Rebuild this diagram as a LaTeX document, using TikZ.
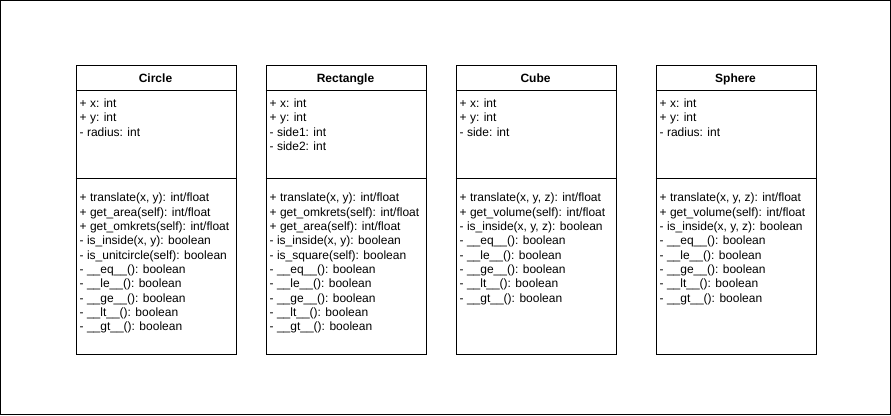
\documentclass[tikz,border=0pt]{standalone}
\usepackage{fontspec}
\setmainfont{Liberation Sans}
\begin{document}
\begin{tikzpicture}[x=1pt,y=-1pt,
  frame/.style={draw=black,line width=1pt},
  umlbox/.style={draw=black,line width=1pt,fill=white,rectangle,minimum width=160pt,minimum height=289.5pt,anchor=north west,inner sep=0pt},
  umltitle/.style={font=\fontsize{12}{14.4}\selectfont\bfseries,anchor=base,inner sep=0pt},
  member/.style={font=\fontsize{12}{14.4}\selectfont,anchor=base west,inner sep=0pt}]
\useasboundingbox (0,0) rectangle (891,415);
\draw[frame] (0.5,0.5) rectangle (890.5,414.5);
\newcommand\umlclass[5]{%
  \node[umlbox] (#1) at (#2,64.5) {};
  \draw[frame] (#2,90.5) -- ++(160,0);
  \draw[frame] (#2,178.5) -- ++(160,0);
  \node[umltitle] (#1-title) at (#2+80,82) {#3};
  \foreach \m [count=\i] in {#4}
    \node[member] (#1-a\i) at (#2+4,107.5+14.4*\i-14.4) {\m};
  \foreach \m [count=\i] in {#5}
    \node[member] (#1-m\i) at (#2+4,201.7+14.35*\i-14.35) {\m};
}
\umlclass{circle}{75.5}{Circle}
  {{+ x: int},{+ y: int},{- radius: int}}
  {{+ translate(x, y): int/float},{+ get\_area(self): int/float},{+ get\_omkrets(self): int/float},{- is\_inside(x, y): boolean},{- is\_unitcircle(self): boolean},{- \_\_eq\_\_(): boolean},{- \_\_le\_\_(): boolean},{- \_\_ge\_\_(): boolean},{- \_\_lt\_\_(): boolean},{- \_\_gt\_\_(): boolean}}
\umlclass{rectangle}{265.5}{Rectangle}
  {{+ x: int},{+ y: int},{- side1: int},{- side2: int}}
  {{+ translate(x, y): int/float},{+ get\_omkrets(self): int/float},{+ get\_area(self): int/float},{- is\_inside(x, y): boolean},{- is\_square(self): boolean},{- \_\_eq\_\_(): boolean},{- \_\_le\_\_(): boolean},{- \_\_ge\_\_(): boolean},{- \_\_lt\_\_(): boolean},{- \_\_gt\_\_(): boolean}}
\umlclass{cube}{455.5}{Cube}
  {{+ x: int},{+ y: int},{- side: int}}
  {{+ translate(x, y, z): int/float},{+ get\_volume(self): int/float},{- is\_inside(x, y, z): boolean},{- \_\_eq\_\_(): boolean},{- \_\_le\_\_(): boolean},{- \_\_ge\_\_(): boolean},{- \_\_lt\_\_(): boolean},{- \_\_gt\_\_(): boolean}}
\umlclass{sphere}{655.5}{Sphere}
  {{+ x: int},{+ y: int},{- radius: int}}
  {{+ translate(x, y, z): int/float},{+ get\_volume(self): int/float},{- is\_inside(x, y, z): boolean},{- \_\_eq\_\_(): boolean},{- \_\_le\_\_(): boolean},{- \_\_ge\_\_(): boolean},{- \_\_lt\_\_(): boolean},{- \_\_gt\_\_(): boolean}}
\end{tikzpicture}
\end{document}
